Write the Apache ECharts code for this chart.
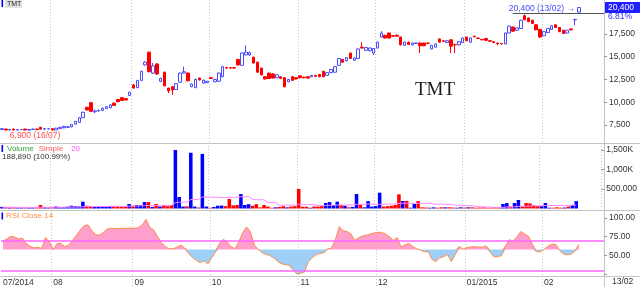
<!DOCTYPE html>
<html><head><meta charset="utf-8">
<script src="https://cdn.jsdelivr.net/npm/echarts@6/dist/echarts.min.js"></script>
<style>html,body{margin:0;padding:0;background:#fff}#c{width:640px;height:287px}</style>
</head><body><div id="c"></div>
<script>
const symbolName = 'TMT';
const dayLists = [
 ['2014','07',[15,16,17,18,21,22,23,24,25,28,29,30,31]],
 ['2014','08',[1,4,5,6,7,8,11,12,13,14,15,18,19,20,21,22,25,26,27,28,29]],
 ['2014','09',[3,4,5,8,9,10,11,12,15,16,17,18,19,22,23,24,25,26,29,30]],
 ['2014','10',[1,2,3,6,7,8,9,10,13,14,15,16,17,20,21,22,23,24,27,28,29,30,31]],
 ['2014','11',[3,4,5,6,7,10,11,12,13,14,17,18,19,20,21,24,25,26,27,28]],
 ['2014','12',[1,2,3,4,5,8,9,10,11,12,15,16,17,18,19,22,23,24,25,26,29,30,31]],
 ['2015','01',[5,6,7,8,9,12,13,14,15,16,19,20,21,22,23,26,27,28,29,30]],
 ['2015','02',[2,3,4,5,6,9,10,11,12,13]]
];
const monthTickLabels = ['07/2014','08','09','10','11','12','01/2015','02'];
const opens  = [7000,7050,6950,7050,6950,7000,7050,6950,7000,7050,7250,7050,7100,7100,6950,7100,7200,7250,7300,7600,7800,8300,9450,9950,8950,9050,9100,9300,9400,9900,10300,10500,10400,10750,11900,11600,12400,14100,15500,13200,14200,12300,13300,11550,11700,11400,12200,13200,13200,11700,11600,12650,12100,12150,12700,12250,12300,12800,13800,13800,13800,14700,14050,15200,15200,14950,14400,13750,12800,13200,13100,12700,12800,12700,12250,12800,12700,12900,12750,12800,12800,12950,13050,13400,12950,13250,13300,14050,14700,14550,15400,14600,14800,16050,15700,15650,15400,15950,17150,17350,17600,17300,17350,17150,16250,16600,16300,16450,16500,16500,16500,15850,16050,16950,16750,16550,16850,16350,16300,16550,17150,16600,17250,17050,16900,17000,16750,16650,16500,16450,16400,17600,18250,17900,18100,19500,19250,19000,18500,18000,17300,17650,18000,18500,18200,17900,17600,18050,19050,19900];
const closes = [7100,6950,7000,6950,7000,7000,6950,7000,7050,7000,7050,7100,7100,6950,7150,7250,7350,7300,7550,7900,8300,8900,9150,9000,9050,9100,9350,9500,9700,9650,10050,10200,10250,11100,11550,12400,13400,14400,13350,14000,13100,12600,11800,11250,11350,12050,13200,13350,12350,12000,12500,12450,12400,12300,12600,12500,13200,13900,13750,13750,13750,14100,15400,15500,15450,14300,13300,13000,12550,12600,12650,13000,12600,11700,12500,12400,12550,12700,12700,12650,12950,12850,12800,12800,13250,13600,13900,14800,14400,14900,14800,14850,15850,15950,16000,15950,15900,16600,17600,17050,17050,17250,17250,16300,16600,16350,16500,16500,16200,16200,16450,16250,16400,16600,16700,16750,16150,16300,16650,17050,16750,17050,17200,17000,16850,16800,16700,16550,16450,16400,17600,18350,17800,18150,19000,19050,18850,18650,17950,17150,17750,18100,18400,18200,17750,17550,17900,17950,19100,20400];
const lows   = [6950,6900,6920,6920,6930,6950,6920,6920,6950,6950,7000,7000,7000,6920,6950,7050,7150,7200,7250,7550,7750,8250,9100,8950,8800,8950,9050,9250,9350,9600,10000,10150,10200,10700,11500,11550,12300,14000,13300,13100,13000,12200,11750,11000,10800,11350,12150,13150,12300,11650,11550,12400,12050,12100,12550,12200,12250,12750,13650,13700,13700,14050,14000,15150,15100,14250,13250,12950,12500,12550,12600,12650,12550,11650,12200,12350,12500,12600,12600,12600,12750,12750,12750,12750,12900,13200,13250,14000,14350,14500,14750,14550,14750,15900,15650,15600,15200,15900,17100,17000,17000,17200,17200,16250,16200,16300,16250,16400,15400,16150,16400,15800,16000,16550,16650,16500,15400,15400,16250,16500,16700,16550,17100,16950,16800,16750,16650,16500,16250,16350,16350,17550,17750,17850,18050,19000,18800,18600,17900,17050,17250,17600,17950,18150,17700,17500,17550,17900,18450,19850];
const highs  = [7150,7100,7050,7100,7050,7050,7100,7050,7100,7100,7300,7150,7150,7150,7200,7300,7400,7400,7600,7950,8350,8950,9500,10050,9200,9200,9400,9550,9800,10000,10350,10550,10450,11150,12000,12450,13450,14500,15550,14300,14300,12700,13350,11600,11750,12100,13250,13900,13250,12050,12600,12700,12500,12350,12800,12550,13250,14000,13900,13850,13850,14750,15450,16250,15550,15000,14450,13800,12850,13250,13200,13050,12850,12750,12550,12850,12750,12950,12800,12850,13000,13000,13100,13450,13300,13650,13950,14850,14750,14950,15450,14900,15900,16600,16050,16000,15950,16650,17800,17400,17650,17350,17450,17200,16650,16650,16550,16550,16550,16550,16550,16300,16450,17000,16800,16800,16900,16400,16700,17100,17200,17100,17300,17100,16950,17050,16800,16700,16550,16500,17650,18400,18300,18200,19050,19650,19300,19050,18550,18050,17800,18150,18450,18550,18250,17950,17950,18100,19100,20400];
const volumes = [40000,30000,25000,30000,20000,25000,30000,20000,25000,30000,90000,30000,25000,35000,50000,30000,35000,45000,70000,60000,55000,175000,70000,60000,40000,45000,55000,45000,60000,50000,55000,45000,50000,115000,70000,90000,90000,165000,165000,40000,115000,50000,90000,60000,90000,1500000,295000,50000,55000,1430000,50000,25000,1400000,50000,20000,40000,70000,75000,60000,245000,80000,90000,370000,90000,110000,70000,110000,30000,90000,50000,20000,30000,40000,60000,30000,50000,60000,500000,45000,45000,20000,50000,50000,60000,140000,165000,90000,175000,90000,70000,30000,40000,372000,90000,30000,190000,50000,60000,405000,50000,60000,70000,90000,363000,192000,192000,20000,115000,190000,30000,25000,20000,30000,20000,30000,30000,30000,25000,20000,30000,25000,30000,30000,20000,25000,30000,20000,25000,30000,35000,115000,140000,50000,140000,218000,50000,140000,130000,80000,60000,60000,140000,20000,20000,30000,20000,25000,50000,93980,188890];
const rsi14 = [69.4,72,75.5,74.8,72,73.2,66,62.5,60,61,59.6,74,68,58.2,66,66,62,64,70,77,84,89.9,90.8,83,77.4,77.4,81,85.5,86.2,86,86,86.2,86.3,86.3,86.3,87,90.8,98,87.5,84,75,67,62,58.8,59,61,64,60,53,47.5,43.5,40.5,43,38.6,47,55,66,71.6,68,62,59,68,80,88,82,64,58.5,54,51.5,50,47,42.5,39,38,37,31,25.5,26.2,28,41.8,47,51,52.9,53.5,59,60,71,88.5,83,82,79,70,73.5,76,77,78.5,80,81,80.7,78.5,75,70,74,61.5,64.2,66,62,59,57.5,55.1,55.1,45,42,47.2,48.2,51.6,42,51.3,62,58.5,60.3,61.3,61.8,61.3,61,63,55,48.4,48.4,50,63,71,69.5,75,82,78.5,75.5,64.5,55,55,58,62.5,65,65,57,52,50.9,52,56,64.6];
const priceTicks = [7500,10000,12500,15000,17500];
const volumeTicks = [500000,1000000,1500000];
const rsiLabelTicks = [50,75,100];
const rsiTickMarks = [25,50,75,100];
const rsiLevels = [70,30];
const rsiBase = 58;
const maPeriod = 20;
const padCount = 6;

// build categories
const dates = [], monthStart = [];
dayLists.forEach(([y,m,days]) => { monthStart.push(dates.length); days.forEach(d => dates.push(String(d).padStart(2,'0')+'/'+m+'/'+y)); });
const categories = dates.concat(Array.from({length:padCount},(_, k)=>'pad'+k));
const splitSet = new Set(monthStart.slice(1));
const labelMap = {}; monthStart.forEach((idx,k)=>labelMap[idx]=monthTickLabels[k]);
const n = dates.length;
const candle = dates.map((d,i)=>[opens[i],closes[i],lows[i],highs[i]]);
const volBars = volumes.map((v,i)=>({value:v,itemStyle:{color: closes[i]>=opens[i]?'#0000ff':'#ff0000'}}));
const volMA = volumes.map((v,i)=>{const s=Math.max(0,i-maPeriod+1);let t=0;for(let k=s;k<=i;k++)t+=volumes[k];return t/(i-s+1);});
const rsiUp = rsi14.map(v=>Math.max(v,rsiBase));
const rsiDn = rsi14.map(v=>Math.min(v,rsiBase));

const FONT = 'Liberation Sans';
const fmtNum = v => Math.round(v).toLocaleString('en-US');
const grids = [
  {left:0,right:36,top:0,height:143},
  {left:0,right:36,top:143,height:65.5},
  {left:0,right:36,top:211,height:65}
];
const gridLine = {show:true, interval:(i)=>splitSet.has(i), lineStyle:{color:'#c6c6c6',width:1,type:[1,2]}};
function xAxisFor(gi, labels){
  return {type:'category',gridIndex:gi,data:categories,boundaryGap:true,
    axisLine:{show:false},
    axisTick: labels ? {show:true,interval:(i)=>splitSet.has(i),length:11,lineStyle:{color:'#c6c6c6',type:[1,2]}} : {show:false},
    axisLabel: labels ? {show:true,interval:(i)=>labelMap[i]!==undefined,formatter:(v,i)=>labelMap[i]||'',align:'left',margin:2,
      fontFamily:FONT,fontSize:8.5,color:'#333'} : {show:false},
    splitLine: gridLine};
}
function yAxisFor(gi,min,max,labelVals,tickVals,fmt){
  return {type:'value',gridIndex:gi,position:'right',min:min,max:max,scale:true,
    axisLine:{show:false},splitLine:{show:false},
    axisTick:{show:true,customValues:tickVals,length:3,lineStyle:{color:'#999'}},
    axisLabel:{show:true,customValues:labelVals,margin:5,formatter:fmt,fontFamily:FONT,fontSize:8.5,color:'#333'}};
}
const chart = echarts.init(document.getElementById('c'),null,{renderer:'canvas'});
chart.setOption({
  animation:false,
  grid:grids,
  xAxis:[xAxisFor(0,false),xAxisFor(1,false),xAxisFor(2,true)],
  yAxis:[
    yAxisFor(0,5525,21225,priceTicks,priceTicks,v=>fmtNum(v)),
    yAxisFor(1,0,1680000,volumeTicks,volumeTicks,v=> v>=1000000 ? fmtNum(v/1000)+'K' : fmtNum(v)),
    yAxisFor(2,22.7,109.3,rsiLabelTicks,rsiTickMarks,v=>v.toFixed(2))
  ],
  series:[
    {type:'candlestick',xAxisIndex:0,yAxisIndex:0,data:candle,barWidth:3,
      itemStyle:{color:'#ffffff',color0:'#ff0000',borderColor:'#4b4bff',borderColor0:'#ff0000',borderWidth:1}},
    {type:'bar',xAxisIndex:1,yAxisIndex:1,data:volBars,barWidth:'92%'},
    {type:'line',xAxisIndex:1,yAxisIndex:1,data:volMA,showSymbol:false,symbol:'none',lineStyle:{color:'#ff88ff',width:1}},
    {type:'line',xAxisIndex:2,yAxisIndex:2,data:rsiUp,symbol:'none',lineStyle:{width:0},areaStyle:{origin:rsiBase,color:'#ff9fcb',opacity:1}},
    {type:'line',xAxisIndex:2,yAxisIndex:2,data:rsiDn,symbol:'none',lineStyle:{width:0},areaStyle:{origin:rsiBase,color:'#9fcff7',opacity:1}},
    {type:'line',xAxisIndex:2,yAxisIndex:2,data:rsi14,symbol:'none',lineStyle:{color:'#ff8c42',width:1},
      markLine:{silent:true,symbol:'none',label:{show:false},lineStyle:{color:'#ff66ff',width:1.5,type:'solid'},
        data:rsiLevels.map(v=>({yAxis:v}))}}
  ]
});

// annotations derived from data
const last = n-1;
let iMax=0,iMin=0; for(let i=0;i<n;i++){ if(highs[i]>highs[iMax]) iMax=i; if(lows[i]<lows[iMin]) iMin=i; }
const ddmm = d => d.slice(0,5);
const pMax = chart.convertToPixel({xAxisIndex:0,yAxisIndex:0},[iMax,highs[iMax]]);
const pMin = chart.convertToPixel({xAxisIndex:0,yAxisIndex:0},[iMin,lows[iMin]]);
const pLast = chart.convertToPixel({xAxisIndex:0,yAxisIndex:0},[last,closes[last]]);
const chgPct = ((closes[last]-closes[last-1])/closes[last-1]*100).toFixed(2)+'%';
const volPct = ((volumes[last]-volumes[last-1])/volumes[last-1]*100).toFixed(2)+'%';
const W = 640, H = 287, axisX = 604.5;
const sep = (y)=>({type:'line',shape:{x1:0,y1:y,x2:W,y2:y},style:{stroke:'#c4c4c4',lineWidth:1},silent:true});
const txt = (x,y,t,fill,size,extra)=>Object.assign({type:'text',x:x,y:y,silent:true,style:Object.assign({text:t,fill:fill,font:(size||8)+'px "'+FONT+'"',verticalAlign:'middle'},extra||{})});
const mark = (x,y,h)=>({type:'rect',shape:{x:x,y:y,width:1.6,height:h},style:{fill:'#0000ff'},silent:true});
const g = [
  sep(143.5), sep(210.5), sep(276.5),
  {type:'line',shape:{x1:axisX,y1:0,x2:axisX,y2:H},style:{stroke:'#c4c4c4',lineWidth:1},silent:true},
  // title chip
  mark(1.5,0,7),
  {type:'rect',shape:{x:5,y:0,width:17,height:8},style:{fill:'#e2e2e2'},silent:true},
  txt(7,4,symbolName,'#222',7),
  // watermark
  {type:'text',x:435,y:90,silent:true,style:{text:symbolName,fill:'#1a1a1a',font:'19px "Liberation Serif"',align:'center',verticalAlign:'middle'}},
  // volume legend
  mark(1.5,145,7),
  {type:'text',x:7,y:148.5,silent:true,style:{text:'{a|Volume}{b|Simple}{c|'+maPeriod+'}',verticalAlign:'middle',
    rich:{a:{fill:'#3aa03a',font:'8px "'+FONT+'"'},b:{fill:'#ff5a5a',font:'8px "'+FONT+'"',padding:[0,0,0,5]},c:{fill:'#ff55ff',font:'8px "'+FONT+'"',padding:[0,0,0,8]}}}},
  txt(2,157,fmtNum(volumes[last])+' ('+volPct+')','#333',8),
  // RSI legend
  mark(1.5,212.5,7),
  txt(6,216,'RSI Close 14','#ff8c42',8),
  // low / high labels
  txt(pMin[0]+4,pMin[1]+5.5,fmtNum(lows[iMin])+' ('+ddmm(dates[iMin])+')','#ff5050',8.5),
  txt(pMax[0]-4,pMax[1]+1,fmtNum(highs[iMax])+' ('+ddmm(dates[iMax])+') \u2192','#4848ff',8.5,{align:'right'}),
  {type:'line',shape:{x1:pMax[0]-66,y1:pMax[1]+6,x2:axisX,y2:pMax[1]+6},style:{stroke:'#555',lineWidth:1},silent:true},
  // last price box
  {type:'rect',shape:{x:605,y:pLast[1]-5.5,width:35,height:11},style:{fill:'#1f1fff'},silent:true},
  txt(608,pLast[1],fmtNum(closes[last]),'#ffffff',8.5),
  txt(608,pLast[1]+9,chgPct,'#2a2aff',8.5),
  // last date
  txt(612,282,ddmm(dates[last]),'#333',8.5)
];
chart.setOption({graphic:g});
</script></body></html>
